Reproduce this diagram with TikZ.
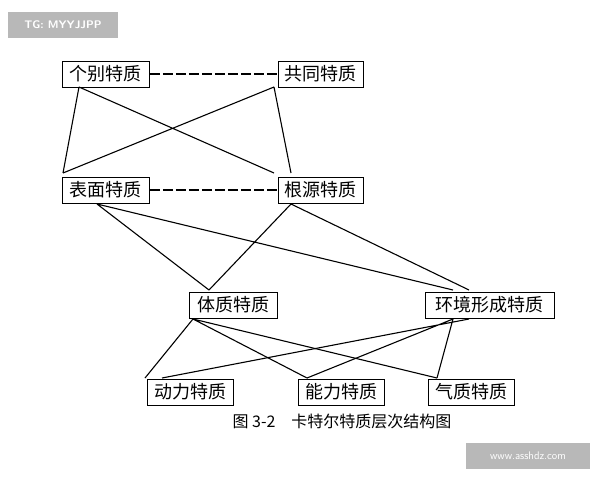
\documentclass[tikz,border=0pt]{standalone}
\usepackage{fontspec}
\newfontfamily\cjk{Noto Sans CJK SC}
\usetikzlibrary{positioning}
\tikzset{
  trait/.style={draw=black,thick,font=\cjk\fontsize{18}{18}\selectfont,inner xsep=0pt,inner ysep=2pt,minimum height=26pt,anchor=west},
  link/.style={black,line width=1.1pt},
  peer/.style={link,dash pattern=on 10pt off 3pt},
  wmark/.style={fill=black!28,text=white,font=\sffamily\bfseries\fontsize{11}{11}\selectfont,minimum height=26pt},
}
\begin{document}
\begin{tikzpicture}[x=1pt,y=-1pt]
 \useasboundingbox[fill=white] (0,0) rectangle (600,480);
	    \node[trait,minimum width=87pt] (GB) at (62,74) {个别特质};
	    \node[trait,minimum width=85pt] (GT) at (278,74) {共同特质};
	    \node[trait,minimum width=87pt] (BM) at (62,190) {表面特质};
	    \node[trait,minimum width=85pt] (GY) at (278,190) {根源特质};
	    \node[trait,minimum width=88pt] (TZ) at (189,305) {体质特质};
	    \node[trait,minimum width=129pt] (HJ) at (425,305) {环境形成特质};
	    \node[trait,minimum width=86pt] (DL) at (147,392) {动力特质};
	    \node[trait,minimum width=86pt] (NL) at (298,392) {能力特质};
	    \node[trait,minimum width=86pt] (QZ) at (428,392) {气质特质};
	    \node[font=\cjk\fontsize{16}{16}\selectfont] (CAP) at (342,421) {图\ 3-2\quad 卡特尔特质层次结构图};
	    \node[wmark,minimum width=110pt] (TG) at (63,25) {TG: MYYJJPP};
	    \node[wmark,minimum width=124pt,font=\sffamily\fontsize{11}{11}\selectfont] (WWW) at (528,456) {www.asshdz.com};
	    % tie points
	    \coordinate (gbS) at (79,87);   \coordinate (gtS) at (274,87);
	    \coordinate (bmN) at (63,173);  \coordinate (bmX) at (274,173);
	    \coordinate (gyN) at (291,173);
	    \coordinate (bmS) at (97,204);  \coordinate (gyS) at (291,204);
	    \coordinate (tzN) at (209,290); \coordinate (hjN) at (453,290); \coordinate (hjM) at (469,290);
	    \coordinate (tzS) at (193,319); \coordinate (hjS) at (453,319); \coordinate (hjR) at (469,319);
	    \coordinate (dlN) at (145,378); \coordinate (dlM) at (162,378);
	    \coordinate (nlN) at (307,378); \coordinate (qzN) at (437,378);
	    \draw[peer] (GB) -- (GT);
	    \draw[peer] (BM) -- (GY);
	    \draw[link] (gbS) -- (bmN) (gbS) -- (bmX) (gtS) -- (bmN) (gtS) -- (gyN);
	    \draw[link] (bmS) -- (tzN) (bmS) -- (hjN) (gyS) -- (tzN) (gyS) -- (hjM);
	    \draw[link] (tzS) -- (dlN) (tzS) -- (nlN) (tzS) -- (qzN);
	    \draw[link] (hjR) -- (dlM) (hjS) -- (nlN) (hjS) -- (qzN);
	\end{tikzpicture}
\end{document}
